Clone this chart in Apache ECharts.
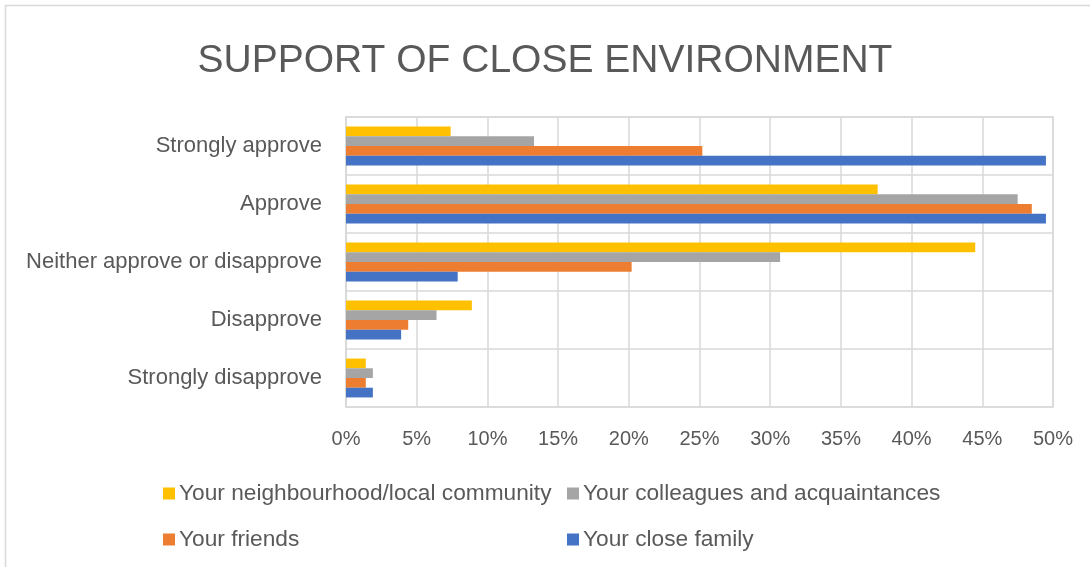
<!DOCTYPE html>
<html>
<head>
<meta charset="utf-8">
<script src="https://cdn.jsdelivr.net/npm/echarts@6/dist/echarts.min.js"></script>
<style>
  html, body { margin: 0; padding: 0; background: #fff; }
  #chart { width: 1090px; height: 567px; }
</style>
</head>
<body>
<div id="chart"></div>
<script>
// Response categories, top to bottom
const categories = ['Strongly approve', 'Approve', 'Neither approve or disapprove', 'Disapprove', 'Strongly disapprove'];

// Share of respondents (%) per group
const neighbourhood = [7.4, 37.6, 44.5, 8.9, 1.4];
const colleagues    = [13.3, 47.5, 30.7, 6.4, 1.9];
const friends       = [25.2, 48.5, 20.2, 4.4, 1.4];
const family        = [49.5, 49.5, 7.9, 3.9, 1.9];

const seriesNames = [
  'Your neighbourhood/local community',
  'Your colleagues and acquaintances',
  'Your friends',
  'Your close family'
];
const xTicks = { min: 0, max: 50, interval: 5 };

const FONT = "'Liberation Sans', Arial, sans-serif";
const TXT = '#595959';
const GRID = '#d9d9d9';
const colors = ['#FFC000', '#A5A5A5', '#ED7D31', '#4472C4'];

const chart = echarts.init(document.getElementById('chart'), null, { renderer: 'canvas' });

function legendAt(name, left, top) {
  return {
    data: [name], left: left, top: top, orient: 'horizontal',
    icon: 'rect', itemWidth: 12, itemHeight: 12, itemGap: 0, padding: 0,
    selectedMode: false,
    textStyle: { fontFamily: FONT, fontSize: 22.7, color: TXT, padding: [0, 0, 0, -1] }
  };
}

const data = [neighbourhood, colleagues, friends, family];

chart.setOption({
  animation: false,
  color: colors,
  title: {
    text: 'SUPPORT OF CLOSE ENVIRONMENT',
    left: 'center', top: 37,
    textStyle: { fontFamily: FONT, fontWeight: 'normal', fontSize: 39, color: TXT }
  },
  graphic: [{
    type: 'rect', silent: true,
    shape: { x: 5.5, y: 5.5, width: 1200, height: 700 },
    style: { fill: 'none', stroke: GRID, lineWidth: 1.5 }
  }],
  legend: [
    legendAt(seriesNames[0], 163, 482),
    legendAt(seriesNames[1], 567, 482),
    legendAt(seriesNames[2], 163, 528),
    legendAt(seriesNames[3], 567, 528)
  ],
  grid: {
    left: 346, right: 37, top: 117, bottom: 160,
    show: true, borderColor: GRID, borderWidth: 1.5, containLabel: false
  },
  xAxis: {
    type: 'value', min: xTicks.min, max: xTicks.max, interval: xTicks.interval,
    axisLine: { show: false }, axisTick: { show: false },
    splitLine: { show: true, lineStyle: { color: GRID, width: 1.5 } },
    axisLabel: { formatter: '{value}%', fontFamily: FONT, fontSize: 20, color: TXT, margin: 22 }
  },
  yAxis: {
    type: 'category', data: categories, inverse: true,
    axisLine: { show: true, lineStyle: { color: GRID, width: 1.5 } },
    axisTick: { show: false },
    splitLine: { show: true, lineStyle: { color: GRID, width: 1.5 } },
    axisLabel: { fontFamily: FONT, fontSize: 22, color: TXT, margin: 24, padding: [5, 0, 0, 0] }
  },
  series: seriesNames.map((name, i) => ({
    name: name, type: 'bar', data: data[i],
    barGap: '0%', barCategoryGap: '33%',
    itemStyle: { color: colors[i] }
  }))
});
</script>
</body>
</html>
